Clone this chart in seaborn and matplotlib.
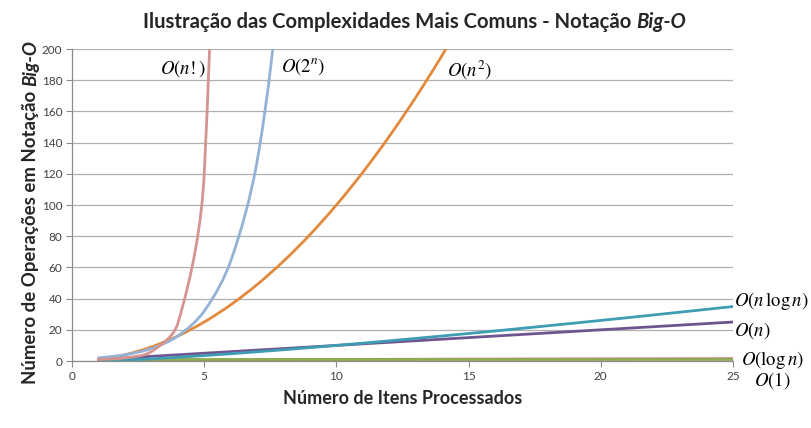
import matplotlib
matplotlib.use("Agg")
import matplotlib.pyplot as plt
from matplotlib.path import Path
from matplotlib.patches import PathPatch
import seaborn as sns
import pandas as pd
import numpy as np

# ---- data ----
n_fact = [1, 2, 3, 4, 5, 6]
v_fact = [1, 2, 6, 24, 120, 720]
n_pow2 = [1, 2, 3, 4, 5, 6, 7, 8]
v_pow2 = [2, 4, 8, 16, 32, 64, 128, 256]
n_sq = [1, 2, 3, 4, 5, 6, 7, 8, 9, 10, 11, 12, 13, 14, 15]
v_sq = [1, 4, 9, 16, 25, 36, 49, 64, 81, 100, 121, 144, 169, 196, 225]
n_all = list(range(1, 26))
v_nlogn = [0, 0.60, 1.43, 2.41, 3.49, 4.67, 5.92, 7.22, 8.59, 10.0, 11.45, 12.95,
           14.48, 16.06, 17.64, 19.27, 20.92, 22.60, 24.30, 26.02, 27.76, 29.53,
           31.32, 33.12, 34.95]
v_n = [1, 2, 3, 4, 5, 6, 7, 8, 9, 10, 11, 12, 13, 14, 15, 16, 17, 18, 19, 20,
       21, 22, 23, 24, 25]
v_logn = [0, 0.30, 0.48, 0.60, 0.70, 0.78, 0.85, 0.90, 0.95, 1.0, 1.04, 1.08,
          1.11, 1.15, 1.18, 1.20, 1.23, 1.26, 1.28, 1.30, 1.32, 1.34, 1.36,
          1.38, 1.40]
v_const = [1] * 25

series_names = ["logn", "const", "n", "nlogn", "sq", "pow2", "fact"]
colors = {"fact": "#D69491", "pow2": "#94B2D6", "sq": "#E2893C",
          "nlogn": "#3E9DB3", "n": "#6F5590", "logn": "#C0504D",
          "const": "#8FAE52"}

frames = []
for name, xs, ys in [("logn", n_all, v_logn), ("const", n_all, v_const),
                     ("n", n_all, v_n), ("nlogn", n_all, v_nlogn),
                     ("sq", n_sq, v_sq), ("pow2", n_pow2, v_pow2),
                     ("fact", n_fact, v_fact)]:
    frames.append(pd.DataFrame({"n": xs, "ops": ys, "serie": name}))
df = pd.concat(frames, ignore_index=True)

sns.set_style("white")
plt.rcParams["font.family"] = ["Lato", "DejaVu Sans"]

fig = plt.figure(figsize=(8.11, 4.28), dpi=100)
ax = fig.add_axes([0.0888, 0.1565, 0.815, 0.729])

sns.lineplot(data=df, x="n", y="ops", hue="serie", hue_order=series_names,
             palette=colors, legend=False, sort=False, linewidth=2.0, ax=ax,
             errorbar=None)

ax.set_xlim(0, 25)
ax.set_ylim(0, 200)


# render each seaborn line as a smoothed curve (spreadsheet-style smoothing:
# cubic Bezier through the points with tangents computed on screen)
def smooth_path(xd, yd):
    pts = ax.transData.transform(np.column_stack([xd, yd]))
    n = len(pts)
    tang = np.zeros_like(pts)
    for k in range(n):
        a = pts[max(k - 1, 0)]
        b = pts[min(k + 1, n - 1)]
        v = b - a
        tang[k] = v / (np.hypot(*v) or 1.0)
    verts = [pts[0]]
    codes = [Path.MOVETO]
    for k in range(n - 1):
        L = np.hypot(*(pts[k + 1] - pts[k]))
        verts += [pts[k] + tang[k] * L / 3,
                  pts[k + 1] - tang[k + 1] * L / 3,
                  pts[k + 1]]
        codes += [Path.CURVE4] * 3
    verts = ax.transData.inverted().transform(np.array(verts))
    return Path(verts, codes)


for line in list(ax.lines):
    xs, ys = line.get_data()
    if len(xs) < 3:
        continue
    patch = PathPatch(smooth_path(xs, ys), facecolor="none",
                      edgecolor=line.get_color(), lw=line.get_linewidth(),
                      zorder=line.get_zorder(), capstyle="round",
                      joinstyle="round")
    ax.add_patch(patch)
    line.set_visible(False)

ax.set_xlim(0, 25)
ax.set_ylim(0, 200)
ax.set_xticks(range(0, 26, 5))
ax.set_yticks(range(0, 201, 20))
ax.yaxis.grid(True, color="#B0B0B0", linewidth=0.9)
ax.set_axisbelow(True)
for s in ["top", "right"]:
    ax.spines[s].set_visible(False)
for s in ["left", "bottom"]:
    ax.spines[s].set_color("#8C8C8C")
    ax.spines[s].set_linewidth(0.9)
ax.tick_params(axis="both", direction="out", length=4, width=0.8,
               color="#8C8C8C", labelcolor="#404040", labelsize=8.5, pad=3)
ax.tick_params(axis="x", bottom=True)
ax.tick_params(axis="y", left=True)
ax.set_xlabel("")
ax.set_ylabel("")

# curve labels
lab_kw = dict(fontsize=13.5, math_fontfamily="stix", color="black",
              clip_on=False, va="center")
ax.text(5.05, 187.5, r"$O(n!)$", ha="right", **lab_kw)
ax.text(7.9, 189, r"$O(2^n)$", ha="left", **lab_kw)
ax.text(14.2, 186, r"$O(n^2)$", ha="left", **lab_kw)
ax.text(25.05, 38.5, r"$O(n\,\log n)$", ha="left", **lab_kw)
ax.text(25.05, 19.5, r"$O(n)$", ha="left", **lab_kw)
ax.text(25.3, 0.5, r"$O(\log n)$", ha="left", **lab_kw)
ax.text(25.8, -12.5, r"$O(1)$", ha="left", **lab_kw)


# titles with italic "Big-O"
def mixed_text(x, y, parts, rotation=0, size=13):
    fig.canvas.draw()
    r = fig.canvas.get_renderer()
    objs = []
    for txt, style in parts:
        t = fig.text(0, 0, txt, fontsize=size, fontweight="bold", style=style,
                     rotation=rotation, rotation_mode="anchor",
                     ha="left", va="baseline")
        objs.append(t)
    widths = []
    for t in objs:
        bb = t.get_window_extent(renderer=r)
        widths.append(bb.width if rotation == 0 else bb.height)
    total = sum(widths)
    W, H = fig.bbox.width, fig.bbox.height
    if rotation == 0:
        px = x * W - total / 2
        for t, w in zip(objs, widths):
            t.set_position((px / W, y))
            px += w
    else:
        py = y * H - total / 2
        for t, w in zip(objs, widths):
            t.set_position((x, py / H))
            py += w


mixed_text(0.511, 0.935, [("Ilustração das Complexidades Mais Comuns - Notação ", "normal"),
                          ("Big-O", "italic")], size=14.6)
mixed_text(0.496, 0.055, [("Número de Itens Processados", "normal")], size=13)
mixed_text(0.045, 0.505, [("Número de Operações em Notação ", "normal"),
                          ("Big-O", "italic")], rotation=90, size=13.4)

fig.savefig("out.png", dpi=100)
